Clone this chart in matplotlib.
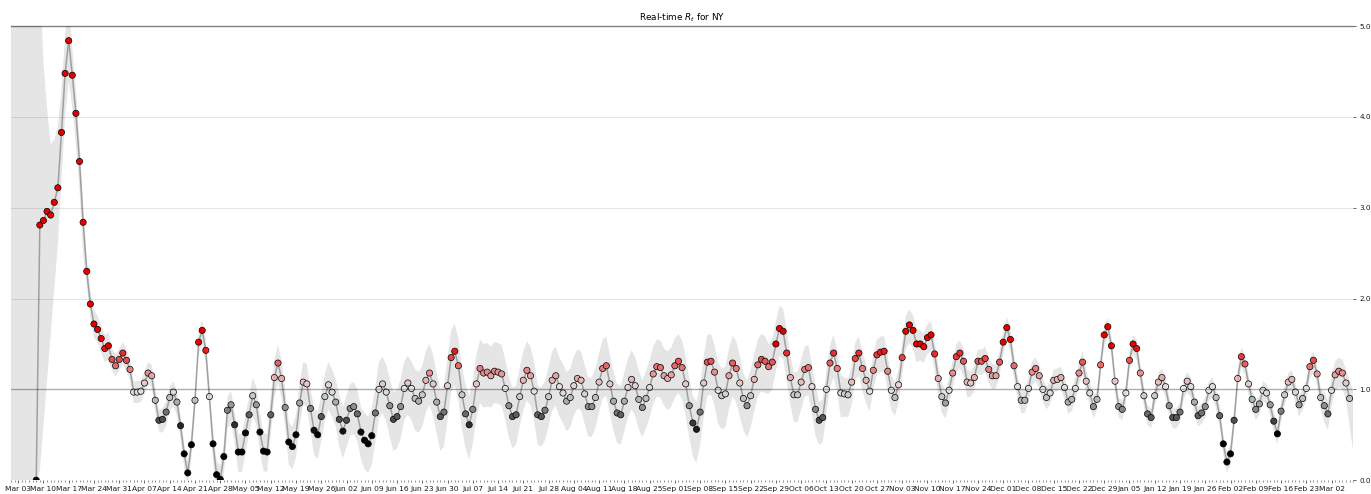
import matplotlib

matplotlib.use("Agg")
import matplotlib.dates as mdates
import matplotlib.pyplot as plt
import matplotlib.ticker as ticker
import numpy as np
import pandas as pd
from matplotlib.colors import ListedColormap

STATE_NAME = "NY"
FIRST_DATE = "2020-03-08"
AXIS_START = "2020-03-01"

# most likely Rt, one value per day from FIRST_DATE
rt_ml = [
    0.00, 2.81, 2.86, 2.96, 2.92, 3.06, 3.22, 3.83, 4.48, 4.84, 4.46, 4.04, 3.51, 2.84,
    2.30, 1.94, 1.72, 1.66, 1.56, 1.45, 1.48,
    1.33, 1.26, 1.33, 1.40, 1.32, 1.22, 0.97,
    0.97, 0.98, 1.07, 1.18, 1.15, 0.88, 0.66,
    0.67, 0.75, 0.91, 0.97, 0.86, 0.60, 0.29,
    0.08, 0.39, 0.88, 1.52, 1.65, 1.43, 0.92,
    0.40, 0.06, 0.01, 0.26, 0.77, 0.83, 0.61,
    0.31, 0.31, 0.52, 0.72, 0.93, 0.83, 0.53,
    0.32, 0.31, 0.72, 1.13, 1.29, 1.12, 0.80,
    0.42, 0.37, 0.50, 0.85, 1.08, 1.06, 0.79,
    0.55, 0.50, 0.70, 0.92, 1.05, 0.97, 0.86,
    0.67, 0.54, 0.66, 0.79, 0.81, 0.73, 0.53,
    0.44, 0.40, 0.49, 0.74, 1.00, 1.06, 0.97,
    0.82, 0.67, 0.70, 0.81, 1.01, 1.07, 1.01,
    0.90, 0.87, 0.94, 1.10, 1.18, 1.06, 0.86,
    0.70, 0.75, 1.04, 1.35, 1.42, 1.26, 0.94,
    0.73, 0.61, 0.78, 1.06, 1.23, 1.18, 1.19,
    1.15, 1.20, 1.19, 1.17, 1.01, 0.82, 0.70,
    0.72, 0.92, 1.10, 1.21, 1.15, 0.98, 0.72,
    0.70, 0.77, 0.92, 1.10, 1.15, 1.03, 0.96,
    0.87, 0.91, 1.04, 1.12, 1.10, 0.95, 0.81,
    0.81, 0.91, 1.08, 1.23, 1.26, 1.06, 0.87,
    0.74, 0.72, 0.87, 1.02, 1.11, 1.04, 0.89,
    0.80, 0.90, 1.02, 1.17, 1.25, 1.24, 1.15,
    1.12, 1.16, 1.26, 1.31, 1.24, 1.06, 0.82,
    0.63, 0.56, 0.75, 1.07, 1.30, 1.31, 1.19,
    0.99, 0.93, 0.95, 1.15, 1.29, 1.23, 1.07,
    0.90, 0.82, 0.93, 1.11, 1.27, 1.33, 1.31,
    1.25, 1.30, 1.50, 1.67, 1.64, 1.40, 1.13,
    0.94, 0.94, 1.08, 1.22, 1.24, 1.03, 0.78,
    0.66, 0.69, 1.00, 1.29, 1.40, 1.23, 0.96,
    0.95, 0.94, 1.08, 1.34, 1.40, 1.23, 1.10,
    0.98, 1.21, 1.38, 1.41, 1.42, 1.20, 0.99,
    0.91, 1.05, 1.35, 1.64, 1.71, 1.65, 1.50,
    1.50, 1.47, 1.57, 1.60, 1.39, 1.12, 0.92,
    0.85, 0.99, 1.18, 1.36, 1.40, 1.31, 1.08,
    1.07, 1.13, 1.31, 1.31, 1.34, 1.22, 1.15,
    1.15, 1.30, 1.52, 1.68, 1.55, 1.26, 1.03,
    0.88, 0.88, 1.01, 1.19, 1.23, 1.15, 1.00,
    0.91, 0.96, 1.10, 1.11, 1.13, 1.02, 0.86,
    0.89, 1.01, 1.18, 1.30, 1.09, 0.96, 0.81,
    0.89, 1.27, 1.60, 1.69, 1.48, 1.09, 0.81,
    0.78, 0.96, 1.32, 1.50, 1.45, 1.18, 0.93,
    0.73, 0.69, 0.93, 1.08, 1.13, 1.03, 0.82,
    0.69, 0.69, 0.75, 1.01, 1.09, 1.03, 0.86,
    0.71, 0.74, 0.81, 0.99, 1.03, 0.91, 0.71,
    0.40, 0.20, 0.29, 0.66, 1.12, 1.36, 1.28,
    1.06, 0.89, 0.78, 0.84, 0.99, 0.96, 0.83,
    0.65, 0.51, 0.76, 0.94, 1.08, 1.11, 0.97,
    0.83, 0.90, 1.01, 1.25, 1.32, 1.17, 0.91,
    0.82, 0.73, 0.99, 1.16, 1.20, 1.18, 1.07,
    0.90,
]

# 90% interval for the first two weeks (Mar 08 - Mar 21)
low_early = [0.0, 0.1, 0.6, 1.1, 1.6, 2.1, 2.6, 3.3, 4.0, 4.4, 4.1, 3.7, 3.2, 2.5]
high_early = [12.0, 5.6, 4.6, 4.1, 3.7, 3.75, 3.9, 4.3, 4.9, 5.3, 4.75, 4.3, 3.75, 3.05]

# distance from Rt to the 90% bounds, one value per week from Mar 22
ci_below = [
    0.15, 0.12, 0.12, 0.15, 0.15, 0.20, 0.22, 0.22, 0.25, 0.27,
    0.30, 0.32, 0.35, 0.35, 0.38, 0.38, 0.35, 0.33, 0.33, 0.33,
    0.33, 0.33, 0.33, 0.35, 0.37, 0.37, 0.35, 0.30, 0.30, 0.27,
    0.25, 0.22, 0.20, 0.18, 0.17, 0.15, 0.14, 0.14, 0.13, 0.13,
    0.12, 0.12, 0.12, 0.12, 0.12, 0.12, 0.12, 0.12, 0.13, 0.18,
    0.30,
]
ci_above = [
    0.15, 0.12, 0.12, 0.12, 0.12, 0.15, 0.20, 0.20, 0.22, 0.25,
    0.27, 0.30, 0.30, 0.32, 0.30, 0.32, 0.32, 0.32, 0.32, 0.32,
    0.32, 0.32, 0.30, 0.30, 0.30, 0.30, 0.28, 0.25, 0.25, 0.20,
    0.18, 0.17, 0.17, 0.15, 0.14, 0.13, 0.12, 0.12, 0.12, 0.12,
    0.10, 0.10, 0.10, 0.10, 0.10, 0.10, 0.10, 0.10, 0.10, 0.15,
    0.20,
]


def extrapolate(x_new: np.ndarray, x: np.ndarray, y: np.ndarray) -> np.ndarray:
    out = np.interp(x_new, x, y)
    left = x_new < x[0]
    right = x_new > x[-1]
    out[left] = y[0] + (x_new[left] - x[0]) * (y[1] - y[0]) / (x[1] - x[0])
    out[right] = y[-1] + (x_new[right] - x[-1]) * (y[-1] - y[-2]) / (x[-1] - x[-2])
    return out


def main() -> None:
    values = np.array(rt_ml)
    index = pd.date_range(FIRST_DATE, periods=len(values), freq="D")

    n_late = len(values) - len(low_early)
    below = np.repeat(ci_below, 7)[:n_late]
    above = np.repeat(ci_above, 7)[:n_late]
    low_90 = np.r_[low_early, values[len(low_early):] - below]
    high_90 = np.r_[high_early, values[len(high_early):] + above]

    above_c = [1, 0, 0]
    middle_c = [1, 1, 1]
    below_c = [0, 0, 0]
    cmap = ListedColormap(np.r_[
        np.linspace(below_c, middle_c, 25),
        np.linspace(middle_c, above_c, 25),
    ])
    color_mapped = np.clip(values, 0.5, 1.5) - 0.5

    fig = plt.figure(figsize=(13.71, 4.94), dpi=100)
    ax = fig.add_axes([0.008, 0.028, 0.979, 0.919])

    ax.plot(index, values, c="k", zorder=1, alpha=0.3, lw=1.1)
    ax.scatter(index, values, s=20, lw=0.5, c=cmap(color_mapped),
               edgecolors="k", zorder=2)

    extended = pd.date_range(start=pd.Timestamp(AXIS_START),
                             end=index[-1] + pd.Timedelta(days=1))
    xs = mdates.date2num(index)
    xe = mdates.date2num(extended)
    ax.fill_between(extended, extrapolate(xe, xs, low_90), extrapolate(xe, xs, high_90),
                    color="k", alpha=0.1, lw=0, zorder=3)

    ax.axhline(1.0, c="k", lw=1, alpha=0.25)

    ax.xaxis.set_major_locator(mdates.WeekdayLocator(byweekday=mdates.TU))
    ax.xaxis.set_major_formatter(mdates.DateFormatter("%b %d"))
    ax.xaxis.set_minor_locator(mdates.DayLocator())
    ax.tick_params(axis="x", which="major", length=2, width=0.6, pad=2,
                   labelsize=5.4, colors="0.3", labelcolor="0.1")
    ax.tick_params(axis="x", which="minor", length=1.2, width=0.5, colors="0.4")

    ax.yaxis.set_major_locator(ticker.MultipleLocator(1))
    ax.yaxis.set_major_formatter(ticker.StrMethodFormatter("{x:.1f}"))
    ax.yaxis.tick_right()
    ax.tick_params(axis="y", length=2.5, width=0.6, pad=2, labelsize=5.2, colors="0.3",
                   labelcolor="0.1")

    ax.spines["left"].set_visible(False)
    ax.spines["bottom"].set_visible(False)
    ax.spines["right"].set_visible(False)
    ax.spines["top"].set_color("0.5")
    ax.spines["top"].set_linewidth(1.0)
    ax.grid(which="major", axis="y", c="k", alpha=0.1, zorder=-2)
    ax.margins(0)
    ax.set_ylim(0.0, 5.0)
    ax.set_xlim(pd.Timestamp(AXIS_START), index[-1] + pd.Timedelta(days=1))
    ax.set_title(f"Real-time $R_t$ for {STATE_NAME}", fontsize=6.4, pad=4)
    fig.set_facecolor("w")

    fig.savefig("out.png", dpi=100)
    plt.close(fig)


if __name__ == "__main__":
    main()
